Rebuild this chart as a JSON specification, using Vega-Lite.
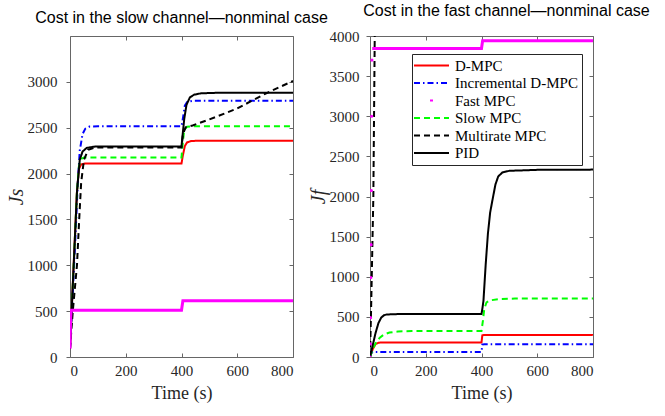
{
  "$schema": "https://vega.github.io/schema/vega-lite/v6.json",
  "padding": {"left": 5, "top": 2, "right": 5, "bottom": 5},
  "bounds": "flush",
  "spacing": 77,
  "datasets": {
    "slow": [
      {"t": 0, "v": 90, "s": "D-MPC"}, {"t": 13, "v": 990, "s": "D-MPC"}, {"t": 25, "v": 1800, "s": "D-MPC"}, {"t": 32, "v": 2050, "s": "D-MPC"}, {"t": 40, "v": 2100, "s": "D-MPC"}, {"t": 55, "v": 2110, "s": "D-MPC"}, {"t": 400, "v": 2110, "s": "D-MPC"}, {"t": 405, "v": 2200, "s": "D-MPC"}, {"t": 412, "v": 2300, "s": "D-MPC"}, {"t": 420, "v": 2340, "s": "D-MPC"}, {"t": 435, "v": 2355, "s": "D-MPC"}, {"t": 460, "v": 2358, "s": "D-MPC"}, {"t": 800, "v": 2358, "s": "D-MPC"},
      {"t": 0, "v": 90, "s": "Incremental D-MPC"}, {"t": 10, "v": 700, "s": "Incremental D-MPC"}, {"t": 20, "v": 1350, "s": "Incremental D-MPC"}, {"t": 28, "v": 1900, "s": "Incremental D-MPC"}, {"t": 35, "v": 2250, "s": "Incremental D-MPC"}, {"t": 45, "v": 2430, "s": "Incremental D-MPC"}, {"t": 55, "v": 2490, "s": "Incremental D-MPC"}, {"t": 70, "v": 2512, "s": "Incremental D-MPC"}, {"t": 100, "v": 2515, "s": "Incremental D-MPC"}, {"t": 400, "v": 2515, "s": "Incremental D-MPC"}, {"t": 405, "v": 2600, "s": "Incremental D-MPC"}, {"t": 412, "v": 2740, "s": "Incremental D-MPC"}, {"t": 420, "v": 2780, "s": "Incremental D-MPC"}, {"t": 440, "v": 2793, "s": "Incremental D-MPC"}, {"t": 800, "v": 2795, "s": "Incremental D-MPC"},
      {"t": 0, "v": 90, "s": "Fast MPC"}, {"t": 2, "v": 400, "s": "Fast MPC"}, {"t": 4, "v": 510, "s": "Fast MPC"}, {"t": 400, "v": 510, "s": "Fast MPC"}, {"t": 405, "v": 612, "s": "Fast MPC"}, {"t": 800, "v": 612, "s": "Fast MPC"},
      {"t": 0, "v": 90, "s": "Slow MPC"}, {"t": 13, "v": 990, "s": "Slow MPC"}, {"t": 25, "v": 1800, "s": "Slow MPC"}, {"t": 32, "v": 2080, "s": "Slow MPC"}, {"t": 40, "v": 2160, "s": "Slow MPC"}, {"t": 50, "v": 2175, "s": "Slow MPC"}, {"t": 400, "v": 2175, "s": "Slow MPC"}, {"t": 405, "v": 2350, "s": "Slow MPC"}, {"t": 410, "v": 2480, "s": "Slow MPC"}, {"t": 420, "v": 2510, "s": "Slow MPC"}, {"t": 440, "v": 2515, "s": "Slow MPC"}, {"t": 800, "v": 2515, "s": "Slow MPC"},
      {"t": 0, "v": 90, "s": "Multirate MPC"}, {"t": 10, "v": 500, "s": "Multirate MPC"}, {"t": 25, "v": 1000, "s": "Multirate MPC"}, {"t": 33, "v": 1500, "s": "Multirate MPC"}, {"t": 40, "v": 1900, "s": "Multirate MPC"}, {"t": 50, "v": 2150, "s": "Multirate MPC"}, {"t": 65, "v": 2260, "s": "Multirate MPC"}, {"t": 90, "v": 2285, "s": "Multirate MPC"}, {"t": 400, "v": 2285, "s": "Multirate MPC"}, {"t": 405, "v": 2430, "s": "Multirate MPC"}, {"t": 415, "v": 2505, "s": "Multirate MPC"}, {"t": 440, "v": 2525, "s": "Multirate MPC"}, {"t": 500, "v": 2590, "s": "Multirate MPC"}, {"t": 600, "v": 2710, "s": "Multirate MPC"}, {"t": 700, "v": 2870, "s": "Multirate MPC"}, {"t": 800, "v": 3010, "s": "Multirate MPC"},
      {"t": 0, "v": 90, "s": "PID"}, {"t": 13, "v": 990, "s": "PID"}, {"t": 25, "v": 1800, "s": "PID"}, {"t": 35, "v": 2150, "s": "PID"}, {"t": 45, "v": 2240, "s": "PID"}, {"t": 60, "v": 2280, "s": "PID"}, {"t": 90, "v": 2295, "s": "PID"}, {"t": 400, "v": 2295, "s": "PID"}, {"t": 405, "v": 2450, "s": "PID"}, {"t": 410, "v": 2600, "s": "PID"}, {"t": 418, "v": 2750, "s": "PID"}, {"t": 430, "v": 2830, "s": "PID"}, {"t": 445, "v": 2860, "s": "PID"}, {"t": 470, "v": 2875, "s": "PID"}, {"t": 520, "v": 2880, "s": "PID"}, {"t": 800, "v": 2880, "s": "PID"}
    ],
    "fast": [
      {"t": 0, "v": 0, "s": "D-MPC"}, {"t": 10, "v": 100, "s": "D-MPC"}, {"t": 20, "v": 160, "s": "D-MPC"}, {"t": 30, "v": 178, "s": "D-MPC"}, {"t": 40, "v": 180, "s": "D-MPC"}, {"t": 400, "v": 180, "s": "D-MPC"}, {"t": 403, "v": 270, "s": "D-MPC"}, {"t": 410, "v": 275, "s": "D-MPC"}, {"t": 800, "v": 275, "s": "D-MPC"},
      {"t": 0, "v": 0, "s": "Incremental D-MPC"}, {"t": 5, "v": 50, "s": "Incremental D-MPC"}, {"t": 10, "v": 63, "s": "Incremental D-MPC"}, {"t": 400, "v": 63, "s": "Incremental D-MPC"}, {"t": 403, "v": 155, "s": "Incremental D-MPC"}, {"t": 410, "v": 158, "s": "Incremental D-MPC"}, {"t": 800, "v": 160, "s": "Incremental D-MPC"},
      {"t": 0, "v": 0, "s": "Fast MPC"}, {"t": 1, "v": 163, "s": "Fast MPC"}, {"t": 2, "v": 490, "s": "Fast MPC"}, {"t": 3, "v": 990, "s": "Fast MPC"}, {"t": 4, "v": 1400, "s": "Fast MPC"}, {"t": 5, "v": 2075, "s": "Fast MPC"}, {"t": 6, "v": 3000, "s": "Fast MPC"}, {"t": 7, "v": 3700, "s": "Fast MPC"}, {"t": 8, "v": 3845, "s": "Fast MPC"}, {"t": 400, "v": 3845, "s": "Fast MPC"}, {"t": 404, "v": 3940, "s": "Fast MPC"}, {"t": 800, "v": 3940, "s": "Fast MPC"},
      {"t": 0, "v": 0, "s": "Slow MPC"}, {"t": 10, "v": 100, "s": "Slow MPC"}, {"t": 20, "v": 170, "s": "Slow MPC"}, {"t": 35, "v": 240, "s": "Slow MPC"}, {"t": 50, "v": 280, "s": "Slow MPC"}, {"t": 70, "v": 305, "s": "Slow MPC"}, {"t": 100, "v": 318, "s": "Slow MPC"}, {"t": 150, "v": 323, "s": "Slow MPC"}, {"t": 200, "v": 325, "s": "Slow MPC"}, {"t": 400, "v": 325, "s": "Slow MPC"}, {"t": 405, "v": 450, "s": "Slow MPC"}, {"t": 410, "v": 600, "s": "Slow MPC"}, {"t": 418, "v": 680, "s": "Slow MPC"}, {"t": 430, "v": 705, "s": "Slow MPC"}, {"t": 460, "v": 720, "s": "Slow MPC"}, {"t": 520, "v": 728, "s": "Slow MPC"}, {"t": 800, "v": 730, "s": "Slow MPC"},
      {"t": 0, "v": 0, "s": "Multirate MPC"}, {"t": 4, "v": 600, "s": "Multirate MPC"}, {"t": 8, "v": 1300, "s": "Multirate MPC"}, {"t": 12, "v": 2000, "s": "Multirate MPC"}, {"t": 14, "v": 2800, "s": "Multirate MPC"}, {"t": 16, "v": 3600, "s": "Multirate MPC"}, {"t": 18, "v": 4400, "s": "Multirate MPC"}, {"t": 22, "v": 5000, "s": "Multirate MPC"},
      {"t": 0, "v": 0, "s": "PID"}, {"t": 10, "v": 150, "s": "PID"}, {"t": 20, "v": 300, "s": "PID"}, {"t": 30, "v": 420, "s": "PID"}, {"t": 40, "v": 490, "s": "PID"}, {"t": 50, "v": 520, "s": "PID"}, {"t": 60, "v": 530, "s": "PID"}, {"t": 100, "v": 535, "s": "PID"}, {"t": 400, "v": 535, "s": "PID"}, {"t": 403, "v": 600, "s": "PID"}, {"t": 407, "v": 700, "s": "PID"}, {"t": 415, "v": 1150, "s": "PID"}, {"t": 423, "v": 1537, "s": "PID"}, {"t": 431, "v": 1800, "s": "PID"}, {"t": 439, "v": 1950, "s": "PID"}, {"t": 450, "v": 2150, "s": "PID"}, {"t": 460, "v": 2250, "s": "PID"}, {"t": 475, "v": 2300, "s": "PID"}, {"t": 500, "v": 2320, "s": "PID"}, {"t": 600, "v": 2332, "s": "PID"}, {"t": 800, "v": 2335, "s": "PID"}
    ]
  },
  "config": {
    "font": "Liberation Serif",
    "view": {"stroke": "#666666", "strokeWidth": 1},
    "axis": {
      "grid": false,
      "domain": false,
      "format": "d",
      "labelFont": "Liberation Serif",
      "labelFontSize": 15,
      "labelColor": "#262626",
      "titleFont": "Liberation Serif",
      "titleFontSize": 18,
      "titleFontWeight": "normal",
      "titleColor": "#262626",
      "tickColor": "#666666"
    },
    "title": {"font": "Liberation Sans", "fontSize": 16, "fontWeight": "normal", "color": "#000000", "offset": 10},
    "legend": {
      "labelFont": "Liberation Serif",
      "labelFontSize": 15,
      "labelColor": "#000000"
    }
  },
  "resolve": {"scale": {"color": "independent", "strokeDash": "independent"}},
  "hconcat": [
    {
      "width": 223,
      "height": 321,
      "title": {"text": "Cost in the slow channel—nonminal case", "font": "Liberation Sans"},
      "data": {"name": "slow"},
      "layer": [
        {
          "transform": [{"filter": "datum.s != 'Fast MPC'"}],
          "mark": {"type": "line", "strokeWidth": 2, "clip": true},
          "encoding": {
            "x": {"field": "t", "type": "quantitative", "scale": {"domain": [0, 800]},
              "axis": {"values": [0, 200, 400, 600, 800], "format": "d", "labelFont": "Liberation Serif", "title": "Time (s)", "tickSize": -4, "labelPadding": 10, "titlePadding": 6}},
            "y": {"field": "v", "type": "quantitative", "scale": {"domain": [0, 3200]},
              "axis": {"values": [0, 500, 1000, 1500, 2000, 2500, 3000], "format": "d", "labelFont": "Liberation Serif", "title": "Js", "titleFontStyle": "italic", "titleFontSize": 20, "tickSize": 4, "labelPadding": 9, "titlePadding": 1}},
            "color": {"field": "s", "type": "nominal",
              "scale": {"domain": ["D-MPC", "Incremental D-MPC", "Fast MPC", "Slow MPC", "Multirate MPC", "PID"],
                "range": ["#ff0000", "#0000ff", "#ff00ff", "#00ff00", "#000000", "#000000"]},
              "legend": null},
            "strokeDash": {"field": "s", "type": "nominal",
              "scale": {"domain": ["D-MPC", "Incremental D-MPC", "Fast MPC", "Slow MPC", "Multirate MPC", "PID"],
                "range": [[1, 0], [6, 3, 1.5, 3], [0.001, 16, 3, 100], [6, 4], [6, 4], [1, 0]]},
              "legend": null}
          }
        },
        {
          "transform": [{"filter": "datum.s == 'Fast MPC'"}],
          "mark": {"type": "line", "strokeWidth": 3, "color": "#ff00ff", "clip": true},
          "encoding": {
            "x": {"field": "t", "type": "quantitative", "axis": null},
            "y": {"field": "v", "type": "quantitative", "axis": null}
          }
        },
        {
          "mark": {"type": "point", "opacity": 0, "clip": true},
          "encoding": {
            "x": {"field": "t", "type": "quantitative",
              "axis": {"orient": "top", "values": [0, 200, 400, 600, 800], "labels": false, "title": null, "tickSize": -4}},
            "y": {"field": "v", "type": "quantitative",
              "axis": {"orient": "right", "values": [0, 500, 1000, 1500, 2000, 2500, 3000], "labels": false, "title": null, "tickSize": -4}}
          }
        }
      ],
      "resolve": {"axis": {"x": "independent", "y": "independent"}}
    },
    {
      "width": 223,
      "height": 321,
      "title": {"text": "Cost in the fast channel—nonminal case", "font": "Liberation Sans", "dx": 25},
      "data": {"name": "fast"},
      "layer": [
        {
          "transform": [{"filter": "datum.s != 'Fast MPC'"}],
          "mark": {"type": "line", "strokeWidth": 2, "clip": true},
          "encoding": {
            "x": {"field": "t", "type": "quantitative", "scale": {"domain": [0, 800]},
              "axis": {"values": [0, 200, 400, 600, 800], "format": "d", "labelFont": "Liberation Serif", "title": "Time (s)", "tickSize": -4, "labelPadding": 10, "titlePadding": 6}},
            "y": {"field": "v", "type": "quantitative", "scale": {"domain": [0, 4000]},
              "axis": {"values": [0, 500, 1000, 1500, 2000, 2500, 3000, 3500, 4000], "format": "d", "labelFont": "Liberation Serif", "title": "Jf", "titleFontStyle": "italic", "titleFontSize": 20, "tickSize": 4, "labelPadding": 7, "titlePadding": 1}},
            "color": {"field": "s", "type": "nominal",
              "scale": {"domain": ["D-MPC", "Incremental D-MPC", "Fast MPC", "Slow MPC", "Multirate MPC", "PID"],
                "range": ["#ff0000", "#0000ff", "#ff00ff", "#00ff00", "#000000", "#000000"]},
              "legend": {"orient": "none", "legendX": 42, "legendY": 18, "title": null, "symbolType": "M-3.5,0H3.5", "symbolSize": 100, "symbolStrokeWidth": 2, "symbolOffset": 8, "strokeColor": "#262626", "fillColor": "#ffffff", "padding": 4, "labelOffset": 16, "rowPadding": 1.5}},
            "strokeDash": {"field": "s", "type": "nominal",
              "scale": {"domain": ["D-MPC", "Incremental D-MPC", "Fast MPC", "Slow MPC", "Multirate MPC", "PID"],
                "range": [[1, 0], [6, 3, 1.5, 3], [0.001, 16, 3, 100], [6, 4], [6, 4], [1, 0]]},
              "legend": {"orient": "none", "legendX": 42, "legendY": 18, "title": null, "symbolType": "M-3.5,0H3.5", "symbolSize": 100, "symbolStrokeWidth": 2, "symbolOffset": 8, "strokeColor": "#262626", "fillColor": "#ffffff", "padding": 4, "labelOffset": 16, "rowPadding": 1.5}}
          }
        },
        {
          "transform": [{"filter": "datum.s == 'Fast MPC' && datum.t >= 8"}],
          "mark": {"type": "line", "strokeWidth": 3, "color": "#ff00ff", "clip": true},
          "encoding": {
            "x": {"field": "t", "type": "quantitative", "axis": null},
            "y": {"field": "v", "type": "quantitative", "axis": null}
          }
        },
        {
          "transform": [{"filter": "datum.s == 'Fast MPC' && datum.t < 8"}],
          "mark": {"type": "circle", "size": 10, "color": "#ff00ff", "opacity": 1, "clip": true},
          "encoding": {
            "x": {"field": "t", "type": "quantitative", "axis": null},
            "y": {"field": "v", "type": "quantitative", "axis": null}
          }
        },
        {
          "mark": {"type": "point", "opacity": 0, "clip": true},
          "encoding": {
            "x": {"field": "t", "type": "quantitative",
              "axis": {"orient": "top", "values": [0, 200, 400, 600, 800], "labels": false, "title": null, "tickSize": -4}},
            "y": {"field": "v", "type": "quantitative",
              "axis": {"orient": "right", "values": [0, 500, 1000, 1500, 2000, 2500, 3000, 3500, 4000], "labels": false, "title": null, "tickSize": -4}}
          }
        }
      ],
      "resolve": {"axis": {"x": "independent", "y": "independent"}}
    }
  ]
}
